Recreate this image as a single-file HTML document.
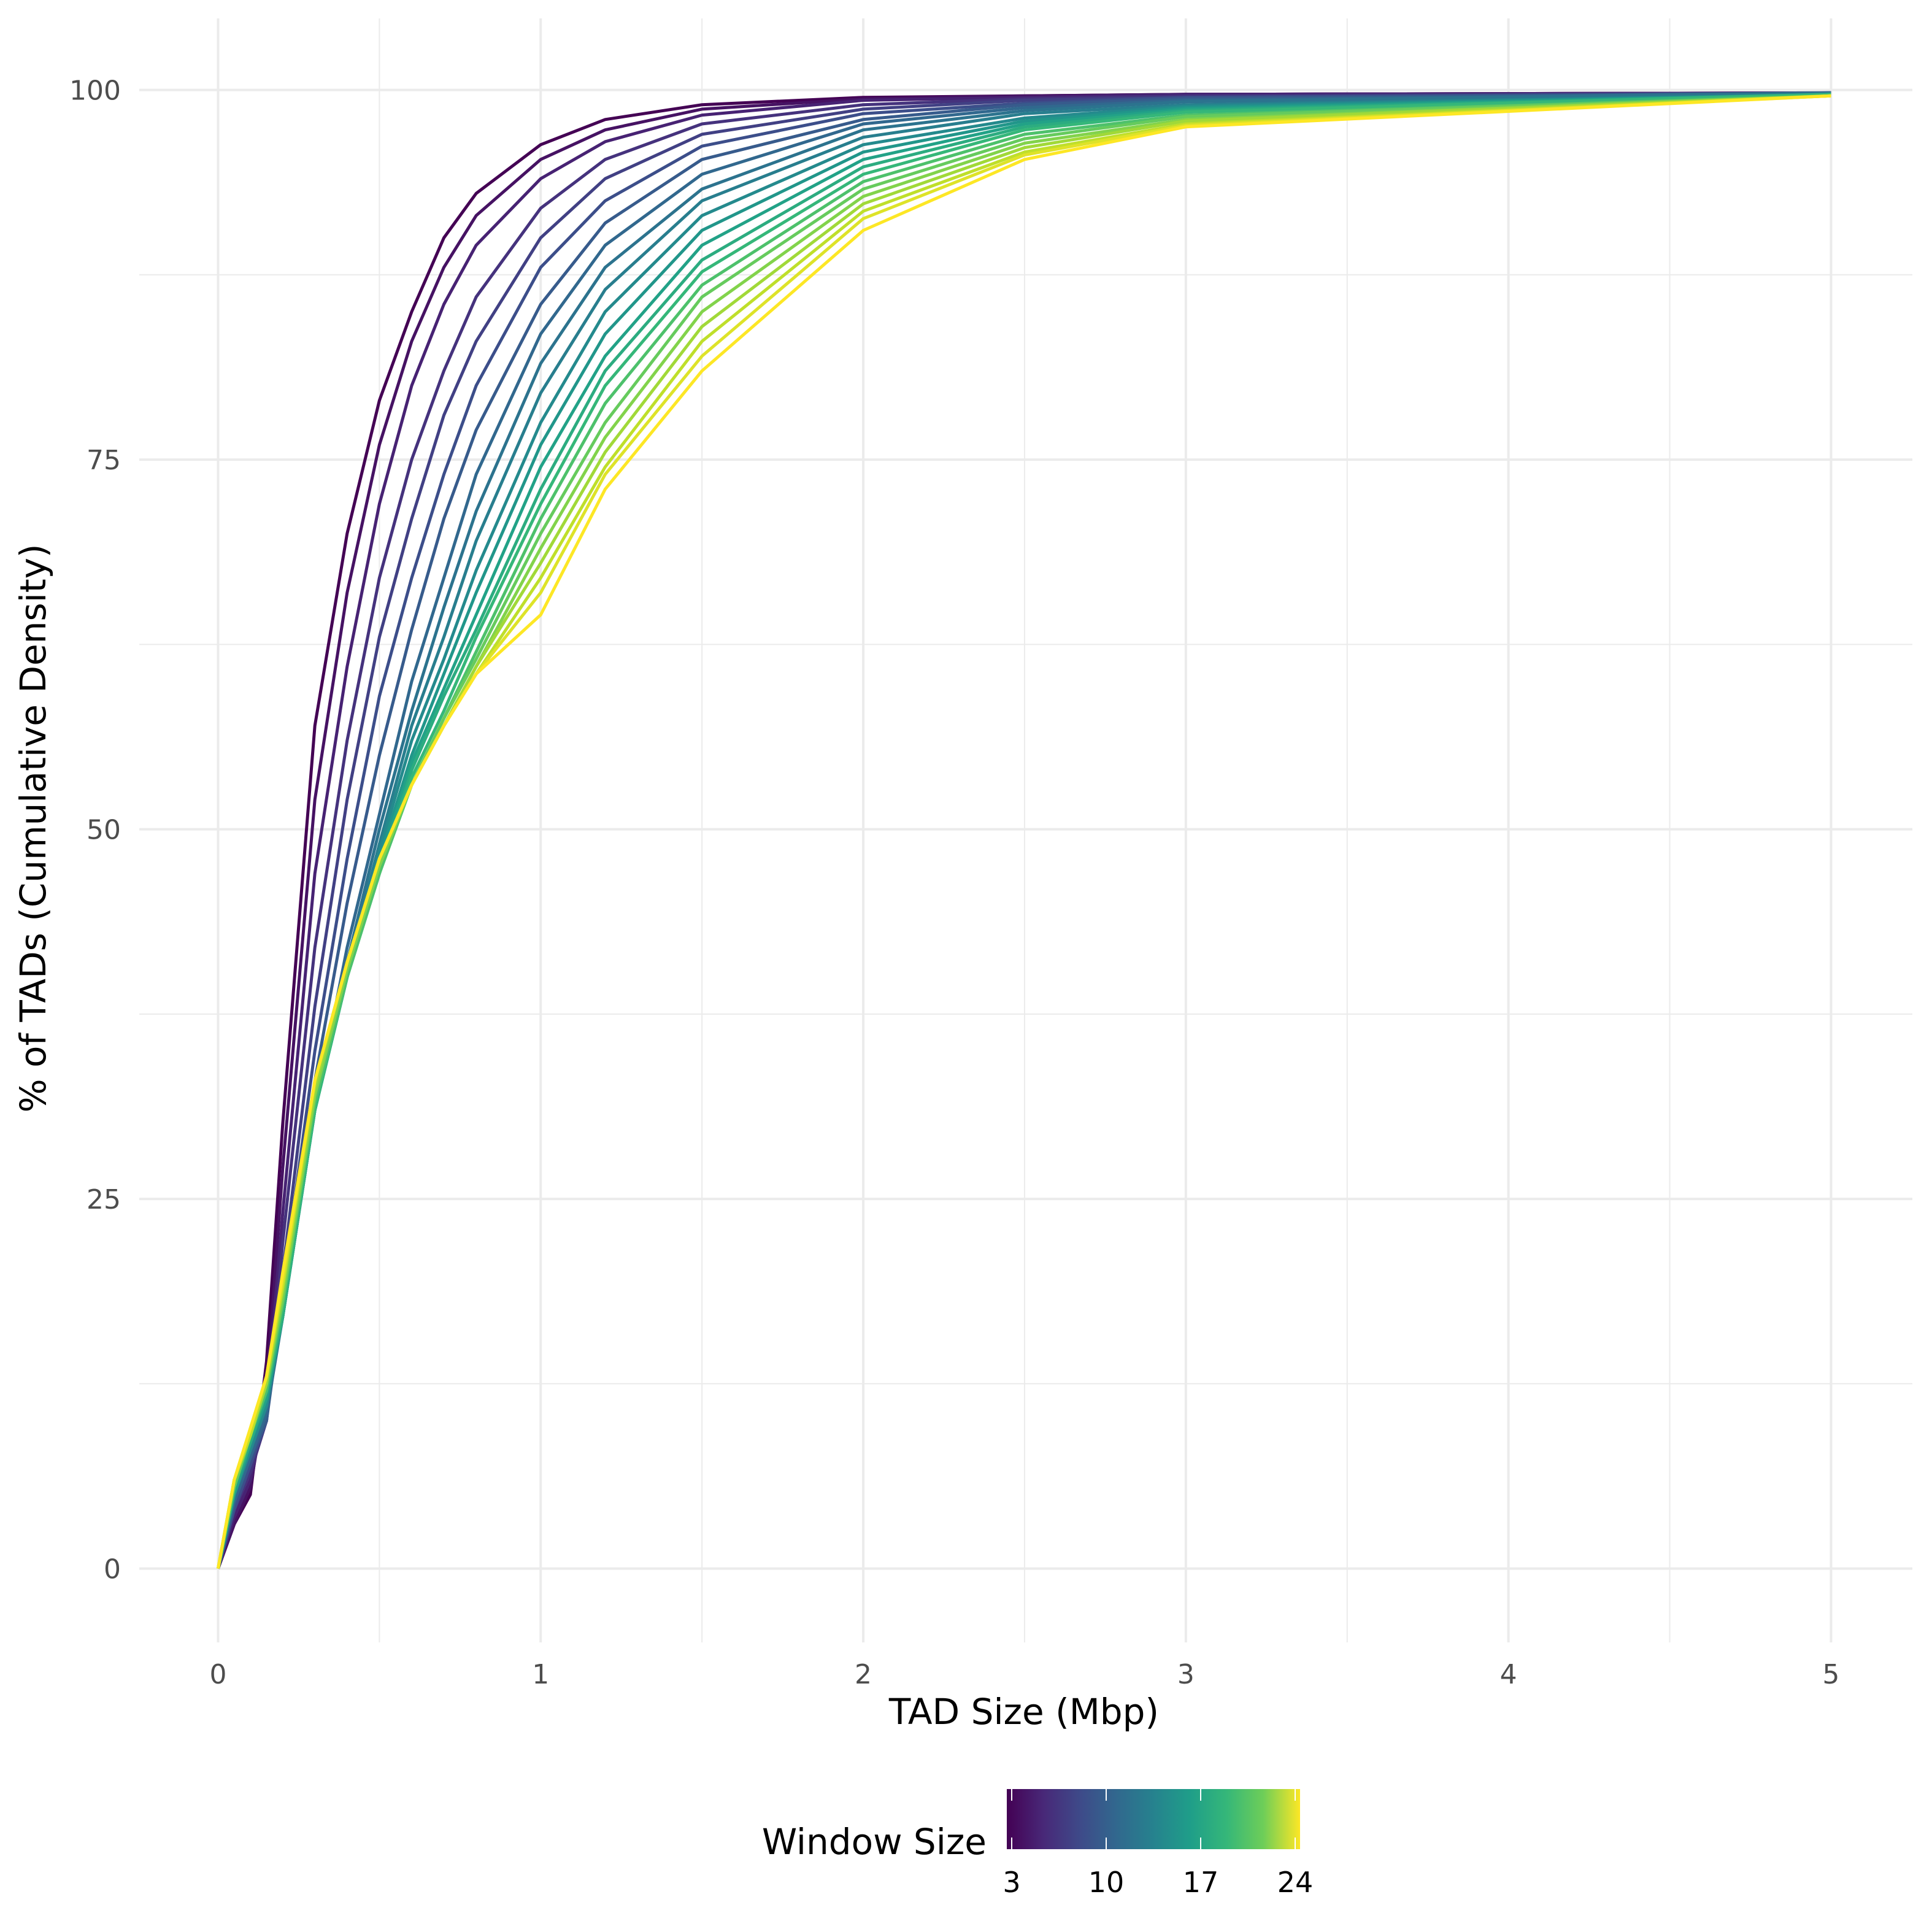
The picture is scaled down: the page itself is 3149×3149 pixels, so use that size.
<!DOCTYPE html>
<html><head><meta charset="utf-8"><style>
html,body{margin:0;padding:0;background:#fff;}
svg{display:block;font-family:"DejaVu Sans","Liberation Sans",sans-serif;}
</style></head><body>
<svg id="chart" width="3149" height="3149" viewBox="0 0 3149 3149" xmlns="http://www.w3.org/2000/svg">
<rect width="3149" height="3149" fill="#fff"/>
<g id="grid"></g>
<g id="series"></g>
<g id="axes"></g>
<text x="1669" y="2810" font-size="58" text-anchor="middle" fill="#000">TAD Size (Mbp)</text>
<text transform="translate(74,1350) rotate(-90)" font-size="58" text-anchor="middle" fill="#000">% of TADs (Cumulative Density)</text>
<g id="legend">
<text x="1608" y="3022" font-size="58" text-anchor="end" fill="#000">Window Size</text>
<defs><linearGradient id="vir" x1="0" x2="1" y1="0" y2="0">
<stop offset="0" stop-color="#440154"/><stop offset="0.125" stop-color="#482878"/><stop offset="0.25" stop-color="#3e4a89"/><stop offset="0.375" stop-color="#31688e"/><stop offset="0.5" stop-color="#26828e"/><stop offset="0.625" stop-color="#1f9e89"/><stop offset="0.75" stop-color="#35b779"/><stop offset="0.875" stop-color="#6ece58"/><stop offset="1" stop-color="#fde725"/></linearGradient></defs>
<rect x="1641" y="2916" width="478" height="98" fill="url(#vir)"/>
<g id="cbticks"></g>
</g>
</svg>
<script>
const xValues=[0,0.05,0.1,0.15,0.2,0.3,0.4,0.5,0.6,0.7,0.8,1.0,1.2,1.5,2.0,2.5,3.0,5.0];
const windows=[3,4,5,6,7,8,9,10,11,12,13,14,15,16,17,18,19,20,21,22,23,24];
const w3=[0,3,5,14,30,57,70,79,85,90,93,96.3,98,99,99.5,99.6,99.7,99.8];
const w4=[0,3,5.5,12,27,52,66,76,83,88,91.5,95.3,97.3,98.7,99.4,99.6,99.7,99.8];
const w5=[0,3.5,6,11,24,47,61,72,80,85.5,89.5,94,96.5,98.3,99.3,99.5,99.7,99.8];
const w6=[0,4,6.5,10,22,42,56,67,75,81,86,92,95.3,97.7,99,99.4,99.6,99.8];
const w7=[0,4,7,10,20,38,52,63,71,78,83,90,94,97,98.7,99.3,99.5,99.8];
const w8=[0,4,7,10,19,35,48,59,67,74,80,88,92.5,96.2,98.4,99.1,99.5,99.8];
const w9=[0,4.5,7.5,10,18,33,45,55,63.5,71,77,85.5,91,95.3,98,99,99.4,99.8];
const w10=[0,4.5,7.5,10.5,17,31,42,51,60,67,74,83.5,89.5,94.3,97.7,98.8,99.3,99.8];
const w11=[0,5,8,11,17,31,41,50,58,65,71.5,81.5,88,93.3,97.3,98.6,99.2,99.8];
const w12=[0,5,8,11,17,31,40.5,49,57,63,69.5,79.5,86.5,92.5,96.8,98.4,99,99.7];
const w13=[0,5,8,11,17,31,40,48.5,56,61.5,67.5,77.5,85,91.5,96.3,98.1,98.9,99.7];
const w14=[0,5,8.5,11.5,17,31,40,48,55,60.5,66,76,83.5,90.5,95.8,97.9,98.8,99.7];
const w15=[0,5,8.5,11.5,17,31,40,47.5,54.5,59.5,64.5,74.5,82,89.5,95.3,97.7,98.7,99.7];
const w16=[0,5.5,8.5,12,17,31,40,47,54,59,63.5,73,81,88.5,94.8,97.5,98.6,99.7];
const w17=[0,5.5,9,12,17.5,31,40,47,53.5,58,63,72,80,87.7,94.3,97.3,98.5,99.7];
const w18=[0,5.5,9,12,18,31.5,40,47,53,57.5,62,71,78.8,86.8,93.8,97,98.3,99.6];
const w19=[0,5.5,9,12.5,18,32,40.5,47.5,53,57.5,61.5,70,77.5,86,93.3,96.7,98.2,99.6];
const w20=[0,6,9,12.5,18.5,32,40.5,47.5,53,57,61,69,76.5,85,92.8,96.4,98,99.6];
const w21=[0,6,9,12.5,19,32.5,41,48,53,57,61,68,75.5,84,92.3,96.1,97.9,99.6];
const w22=[0,6,9,13,19,33,41,48,53,57,60.5,67,74.5,83,91.8,95.8,97.7,99.6];
const w23=[0,6,9.5,13,19.5,33,41,48,53,57,60.5,66,74,82,91.3,95.6,97.6,99.6];
const w24=[0,6,9.5,13,20,33,41,48,53,57,60.5,64.5,73,81,90.5,95.3,97.5,99.6];
const allSeries=[w3,w4,w5,w6,w7,w8,w9,w10,w11,w12,w13,w14,w15,w16,w17,w18,w19,w20,w21,w22,w23,w24];
const xTicks=[0,1,2,3,4,5];
const yTicks=[0,25,50,75,100];
const legendTicks=[3,10,17,24];

const NS="http://www.w3.org/2000/svg";
const X0=355.5,X1=2984.4,Y0=2556.6,Y1=146.6;
const sx=v=>X0+(X1-X0)*v/5;
const sy=v=>Y0+(Y1-Y0)*v/100;
const PL=227,PR=3117,PT=30,PB=2677;
function el(t,a,p){const e=document.createElementNS(NS,t);for(const k in a)e.setAttribute(k,a[k]);p.appendChild(e);return e;}
const grid=document.getElementById('grid');
for(let v=0.5;v<5;v+=1){const l=el('line',{x1:sx(v),x2:sx(v),y1:PT,y2:PB,stroke:'#ebebeb','stroke-width':2},grid);

}
for(let v=12.5;v<100;v+=25){const l=el('line',{x1:PL,x2:PR,y1:sy(v),y2:sy(v),stroke:'#ebebeb','stroke-width':2},grid);

}
xTicks.forEach(v=>{const l=el('line',{x1:sx(v),x2:sx(v),y1:PT,y2:PB,stroke:'#ebebeb','stroke-width':4},grid);

});
yTicks.forEach(v=>{const l=el('line',{x1:PL,x2:PR,y1:sy(v),y2:sy(v),stroke:'#ebebeb','stroke-width':4},grid);

});
const axes=document.getElementById('axes');
xTicks.forEach(v=>{const t=el('text',{x:sx(v),y:2744,'font-size':44,'text-anchor':'middle',fill:'#4d4d4d'},axes);t.textContent=v;

});
yTicks.forEach(v=>{const t=el('text',{x:197,y:sy(v)+16,'font-size':44,'text-anchor':'end',fill:'#4d4d4d'},axes);t.textContent=v;

});
const stops=[[68,1,84],[72,40,120],[62,74,137],[49,104,142],[38,130,142],[31,158,137],[53,183,121],[110,206,88],[181,222,43],[253,231,37]];
function viridis(t){const p=t*(stops.length-1);const i=Math.min(Math.floor(p),stops.length-2);const f=p-i;const a=stops[i],b=stops[i+1];return 'rgb('+a.map((c,k)=>Math.round(c+(b[k]-c)*f)).join(',')+')';}
const series=document.getElementById('series');
allSeries.forEach((s,i)=>{const w=windows[i];const t=(w-3)/21;
const d=s.map((v,j)=>(j?'L':'M')+sx(xValues[j]).toFixed(1)+','+sy(v).toFixed(1)).join('');
const p=el('path',{d:d,fill:'none',stroke:viridis(t),'stroke-width':5,'stroke-linejoin':'round'},series);

});
const cb=document.getElementById('cbticks');
legendTicks.forEach(v=>{const x=1649+(2111-1649)*(v-3)/21;
el('line',{x1:x,x2:x,y1:2916,y2:2935,stroke:'#fff','stroke-width':2},cb);
el('line',{x1:x,x2:x,y1:2995,y2:3014,stroke:'#fff','stroke-width':2},cb);
const t=el('text',{x:x,y:3084,'font-size':46,'text-anchor':'middle',fill:'#000'},cb);t.textContent=v;

});
</script>
</body></html>
